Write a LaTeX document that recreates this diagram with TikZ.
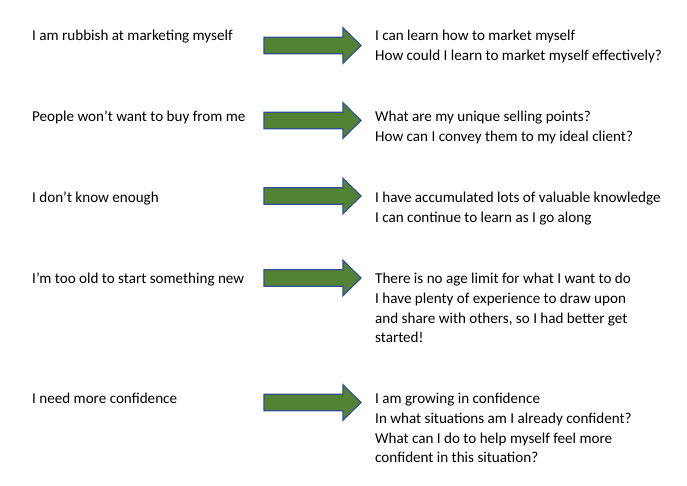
\documentclass[tikz,border=0pt]{standalone}
\usepackage{fontspec}
\setmainfont{Carlito}
\definecolor{arrfill}{RGB}{84,130,53}
\definecolor{arredge}{RGB}{47,82,143}
\begin{document}
\begin{tikzpicture}[x=1pt,y=-1pt,
  txt/.style={anchor=base west, inner sep=0pt, font=\fontsize{15.1}{19.8}\selectfont, align=left},
  bigarrow/.style={fill=arrfill, draw=arredge, line width=1.2pt, line join=miter}]
\useasboundingbox[fill=white] (0,0) rectangle (687,486);
% left texts
\node[txt] (l1) at (32,41) {I am rubbish at marketing myself};
\node[txt] (l2) at (32,122) {People won’t want to buy from me};
\node[txt] (l3) at (32,202.5) {I don’t know enough};
\node[txt] (l4) at (32,283.5) {I’m too old to start something new};
\node[txt] (l5) at (32,403.5) {I need more confidence};
% right texts (base anchor = baseline of last line)
\node[txt] (r1) at (375,41+19.8) {I can learn how to market myself\\How could I learn to market myself effectively?};
\node[txt] (r2) at (375,122+19.8) {What are my unique selling points?\\How can I convey them to my ideal client?};
\node[txt] (r3) at (375,202.5+19.8) {I have accumulated lots of valuable knowledge\\I can continue to learn as I go along};
\node[txt] (r4) at (375,283.5+3*19.8) {There is no age limit for what I want to do\\I have plenty of experience to draw upon\\and share with others, so I had better get\\started!};
\node[txt] (r5) at (375,403.5+3*19.8) {I am growing in confidence\\In what situations am I already confident?\\What can I do to help myself feel more\\confident in this situation?};
% arrows
\foreach \cy in {45.5,120.5,196,278,402.5}{
  \draw[bigarrow] (264,\cy-8.3) -- (343,\cy-8.3) -- (343,\cy-17.7) -- (361,\cy)
    -- (343,\cy+17.7) -- (343,\cy+8.3) -- (264,\cy+8.3) -- cycle;
}
\end{tikzpicture}
\end{document}
